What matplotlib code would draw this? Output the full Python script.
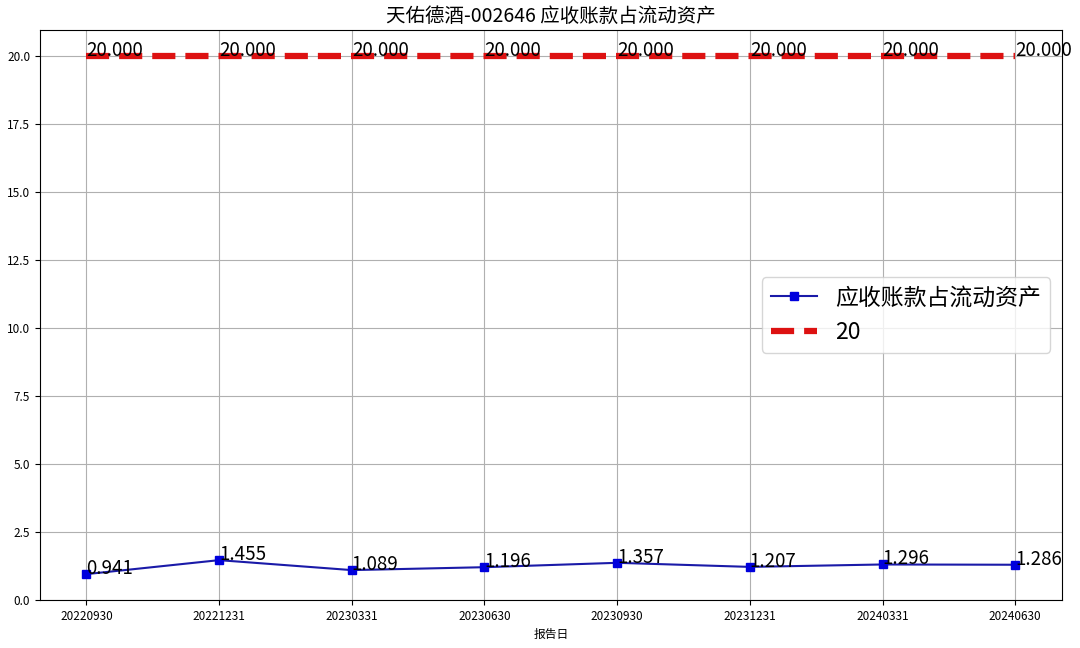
import matplotlib
matplotlib.use("Agg")
import matplotlib.pyplot as plt

plt.rcParams['font.family'] = ['Noto Sans CJK SC', 'DejaVu Sans']
plt.rcParams['axes.unicode_minus'] = False

# report dates and ratio values (%)
dates = ["20220930", "20221231", "20230331", "20230630",
         "20230930", "20231231", "20240331", "20240630"]
ratio = [0.941, 1.455, 1.089, 1.196, 1.357, 1.207, 1.296, 1.286]
threshold = [20.0] * len(dates)

title = "天佑德酒-002646 应收账款占流动资产"
series_name = "应收账款占流动资产"
threshold_name = "20"

fig = plt.figure(figsize=(10.8, 6.48), dpi=100)
ax = fig.add_axes([0.037, 0.074, 0.946, 0.880])

x = list(range(len(dates)))
ax.plot(x, ratio, color="#1a1aa8", marker="s", markersize=6,
        markerfacecolor="#0000dd", markeredgecolor="#0000dd",
        linewidth=1.5, label=series_name)
ax.plot(x, threshold, color="#dd1111", linestyle="--", linewidth=4.5,
        label=threshold_name)

for xi, v in zip(x, ratio):
    ax.text(xi, v, f"{v:.3f}", fontsize=13.5)
for xi, v in zip(x, threshold):
    ax.text(xi, v, f"{v:.3f}", fontsize=13.5)

ax.set_xticks(x)
ax.set_xticklabels(dates)
ax.tick_params(labelsize=8.5)
ax.set_xlabel("报告日", fontsize=8.5)
ax.set_title(title, fontsize=14)
ax.grid(True, color="#b0b0b0", linewidth=0.8)
ax.legend(loc="center right", fontsize=16.5)

fig.savefig("out.png", dpi=100)
